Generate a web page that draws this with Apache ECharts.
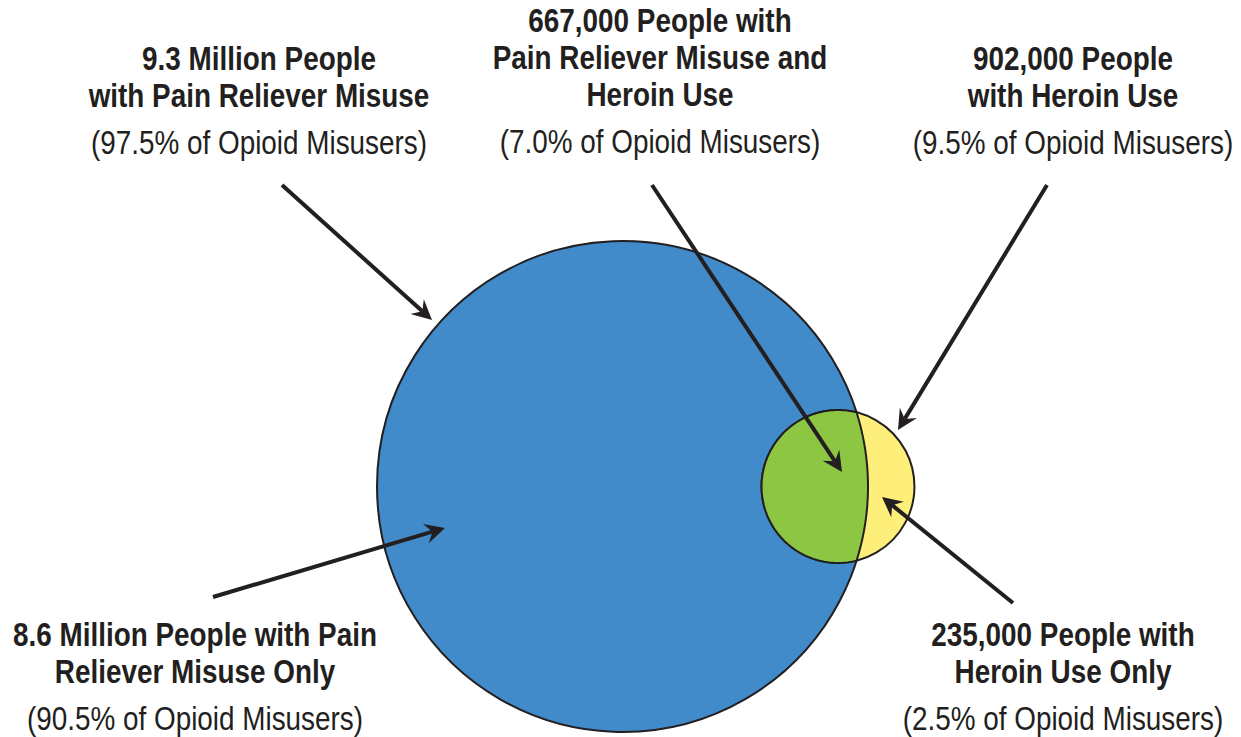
<!DOCTYPE html>
<html>
<head>
<meta charset="utf-8">
<script src="https://cdn.jsdelivr.net/npm/echarts@6/dist/echarts.min.js"></script>
<style>
  html, body { margin: 0; padding: 0; background: #ffffff; }
  #chart { width: 1241px; height: 737px; }
</style>
</head>
<body>
<div id="chart"></div>
<script>
// ---------------- DATA ----------------
const setNames = ['Pain Reliever Misuse', 'Heroin Use'];
const setPeople = [9300000, 902000];
const setPercent = [97.5, 9.5];

const regionNames = ['Pain Reliever Misuse Only', 'Pain Reliever Misuse and Heroin Use', 'Heroin Use Only'];
const regionPeople = [8600000, 667000, 235000];
const regionPercent = [90.5, 7.0, 2.5];

// ---------------- FORMATTING ----------------
function fmtPeople(v) {
  return v >= 1e6 ? (v / 1e6).toFixed(1) + ' Million' : v.toLocaleString('en-US');
}
function fmtPct(p) {
  return '(' + p.toFixed(1) + '% of Opioid Misusers)';
}

const labelBlocks = [
  { lines: [fmtPeople(setPeople[0]) + ' People', 'with ' + setNames[0]], pct: setPercent[0] },
  { lines: [fmtPeople(regionPeople[1]) + ' People with', 'Pain Reliever Misuse and', 'Heroin Use'], pct: regionPercent[1] },
  { lines: [fmtPeople(setPeople[1]) + ' People', 'with ' + setNames[1]], pct: setPercent[1] },
  { lines: [fmtPeople(regionPeople[0]) + ' People with Pain', 'Reliever Misuse Only'], pct: regionPercent[0] },
  { lines: [fmtPeople(regionPeople[2]) + ' People with', 'Heroin Use Only'], pct: regionPercent[2] }
];

// ---------------- LAYOUT / STYLE ----------------
const LAYOUT = {
  painCenter: [622.5, 486.5],
  heroinOffset: 215.5,
  largestRadius: 245.5,
  labelAnchors: [[259, 59], [660, 21], [1073, 59], [195, 635], [1063, 635]],
  lineGap: 37,
  pctGap: 47,
  arrows: [
    [282, 185, 432, 320],
    [652, 185, 842, 472],
    [1047, 185, 898, 430],
    [213, 597, 445, 528],
    [1013, 603, 882, 497]
  ]
};
const COLORS = { pain: '#418bca', heroin: '#fdef7a', both: '#8dc642', stroke: '#231f20', text: '#231f20' };
const FONT = "'Liberation Sans', Arial, Helvetica, sans-serif";
const FONT_SIZE = 34;
const TEXT_SCALE_X = 0.82; // condensed look

// sizes: circle area proportional to people
const kScale = LAYOUT.largestRadius / Math.sqrt(Math.max.apply(null, setPeople));
const radii = setPeople.map(v => kScale * Math.sqrt(v));
const centers = [
  LAYOUT.painCenter,
  [LAYOUT.painCenter[0] + LAYOUT.heroinOffset, LAYOUT.painCenter[1]]
];
const vennData = [
  [centers[0][0], centers[0][1], radii[0]],
  [centers[1][0], centers[1][1], radii[1]],
  [centers[1][0], centers[1][1], 0]
];

function renderVenn(params, api) {
  const i = params.dataIndex;
  if (i < 2) {
    const c = api.coord([api.value(0), api.value(1)]);
    const r = api.size([api.value(2), 0])[0];
    return {
      type: 'circle',
      shape: { cx: c[0], cy: c[1], r: r },
      style: { fill: i === 0 ? COLORS.pain : COLORS.heroin, stroke: COLORS.stroke, lineWidth: 2 }
    };
  }
  const x1 = centers[0][0], y1 = centers[0][1], x2 = centers[1][0], y2 = centers[1][1];
  const R = radii[0], r = radii[1], d = x2 - x1;
  const a = (d * d + R * R - r * r) / (2 * d);
  const h = Math.sqrt(R * R - a * a);
  const t1 = Math.atan2(h, a);
  const t2 = Math.atan2(h, a - d);
  const N = 120;
  const pts = [];
  for (let s = 0; s <= N; s++) {
    const t = -t1 + 2 * t1 * s / N;
    pts.push(api.coord([x1 + R * Math.cos(t), y1 + R * Math.sin(t)]));
  }
  for (let s = 1; s < N; s++) {
    const t = t2 + (2 * Math.PI - 2 * t2) * s / N;
    pts.push(api.coord([x2 + r * Math.cos(t), y2 + r * Math.sin(t)]));
  }
  return {
    type: 'polygon',
    shape: { points: pts },
    style: { fill: COLORS.both, stroke: COLORS.stroke, lineWidth: 2 }
  };
}

function renderArrow(params, api) {
  const p1 = api.coord([api.value(0), api.value(1)]);
  const p2 = api.coord([api.value(2), api.value(3)]);
  const dx = p2[0] - p1[0], dy = p2[1] - p1[1];
  const len = Math.sqrt(dx * dx + dy * dy);
  const ux = dx / len, uy = dy / len, nx = -uy, ny = ux;
  const L = 20, W = 10, notch = 13;
  return {
    type: 'group',
    children: [
      {
        type: 'line',
        shape: { x1: p1[0], y1: p1[1], x2: p2[0] - ux * notch, y2: p2[1] - uy * notch },
        style: { stroke: COLORS.stroke, lineWidth: 4 }
      },
      {
        type: 'polygon',
        shape: {
          points: [
            [p2[0], p2[1]],
            [p2[0] - ux * L + nx * W, p2[1] - uy * L + ny * W],
            [p2[0] - ux * notch, p2[1] - uy * notch],
            [p2[0] - ux * L - nx * W, p2[1] - uy * L - ny * W]
          ]
        },
        style: { fill: COLORS.stroke }
      }
    ]
  };
}

// labels
const graphics = [];
function addText(txt, x, y, weight) {
  graphics.push({
    type: 'text', x: x, y: y, scaleX: TEXT_SCALE_X, silent: true,
    style: {
      text: txt, fill: COLORS.text, fontSize: FONT_SIZE, fontWeight: weight, fontFamily: FONT,
      align: 'center', verticalAlign: 'middle', textAlign: 'center', textVerticalAlign: 'middle'
    }
  });
}
labelBlocks.forEach((b, bi) => {
  const cx = LAYOUT.labelAnchors[bi][0];
  let y = LAYOUT.labelAnchors[bi][1];
  b.lines.forEach((ln, li) => {
    if (li > 0) y += LAYOUT.lineGap;
    addText(ln, cx, y, 'bold');
  });
  y += LAYOUT.pctGap;
  addText(fmtPct(b.pct), cx, y, 'normal');
});

const chart = echarts.init(document.getElementById('chart'), null, { renderer: 'svg' });
chart.setOption({
  animation: false,
  backgroundColor: '#ffffff',
  grid: { left: 0, right: 0, top: 0, bottom: 0 },
  xAxis: { type: 'value', min: 0, max: 1241, show: false },
  yAxis: { type: 'value', min: 0, max: 737, inverse: true, show: false },
  series: [
    {
      type: 'custom', name: 'venn', coordinateSystem: 'cartesian2d',
      renderItem: renderVenn, data: vennData, encode: { x: 0, y: 1 }, silent: true, z: 1
    },
    {
      type: 'custom', name: 'arrows', coordinateSystem: 'cartesian2d',
      renderItem: renderArrow, data: LAYOUT.arrows, encode: { x: [0, 2], y: [1, 3] }, silent: true, z: 2
    }
  ],
  graphic: graphics
});
</script>
</body>
</html>
